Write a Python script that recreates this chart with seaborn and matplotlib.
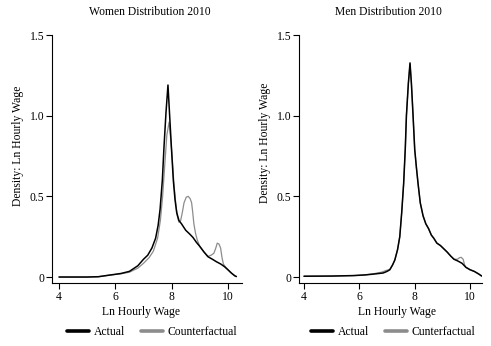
import matplotlib
matplotlib.use("Agg")
import matplotlib.pyplot as plt
import seaborn as sns
import pandas as pd
from matplotlib.lines import Line2D

# ---------------- data ----------------
women_act_x = [4.0, 5.0, 5.4, 5.8, 6.2, 6.5, 6.8, 7.0, 7.15, 7.3, 7.43, 7.52, 7.59, 7.67, 7.73,
               7.8, 7.87, 7.93, 7.99, 8.06, 8.12, 8.18, 8.26, 8.35, 8.5, 8.65, 8.76, 8.88, 9.0,
               9.15, 9.29, 9.45, 9.59, 9.75, 9.88, 10.0, 10.12, 10.24, 10.3]
women_act_y = [0.0, 0.0, 0.002, 0.012, 0.022, 0.035, 0.07, 0.11, 0.135, 0.18, 0.24, 0.32, 0.42, 0.60, 0.81,
               1.02, 1.19, 1.0, 0.81, 0.60, 0.48, 0.40, 0.35, 0.33, 0.29, 0.265, 0.245, 0.215, 0.19,
               0.155, 0.126, 0.11, 0.095, 0.08, 0.064, 0.045, 0.025, 0.008, 0.003]

women_cf_x = [4.0, 5.0, 5.4, 5.8, 6.2, 6.5, 6.8, 7.0, 7.2, 7.35, 7.5, 7.6, 7.68, 7.75, 7.83, 7.91,
              7.97, 8.02, 8.08, 8.15, 8.2, 8.26, 8.32, 8.38, 8.44, 8.52, 8.59, 8.66, 8.71, 8.75,
              8.79, 8.85, 8.91, 9.0, 9.15, 9.29, 9.4, 9.5, 9.57, 9.62, 9.68, 9.74, 9.79, 9.84,
              9.9, 10.0, 10.12, 10.24, 10.3]
women_cf_y = [0.0, 0.0, 0.002, 0.012, 0.02, 0.03, 0.055, 0.085, 0.12, 0.16, 0.24, 0.35, 0.5, 0.68, 0.88, 0.96,
              0.85, 0.74, 0.58, 0.45, 0.38, 0.34, 0.35, 0.40, 0.46, 0.495, 0.50, 0.485, 0.46, 0.40,
              0.33, 0.27, 0.23, 0.19, 0.155, 0.128, 0.135, 0.147, 0.18, 0.21, 0.205, 0.18, 0.12, 0.08,
              0.065, 0.045, 0.025, 0.008, 0.003]

men_act_x = [4.0, 5.0, 5.8, 6.2, 6.5, 6.86, 7.0, 7.1, 7.2, 7.28, 7.38, 7.46, 7.53, 7.6, 7.66, 7.70,
             7.77, 7.83, 7.88, 7.94, 8.0, 8.06, 8.12, 8.2, 8.3, 8.4, 8.5, 8.6, 8.69, 8.8, 8.93,
             9.05, 9.17, 9.3, 9.42, 9.55, 9.71, 9.85, 10.0, 10.15, 10.3, 10.42]
men_act_y = [0.005, 0.006, 0.009, 0.013, 0.018, 0.025, 0.035, 0.045, 0.075, 0.105, 0.17, 0.25, 0.40, 0.58, 0.80, 1.0,
             1.2, 1.327, 1.2, 1.0, 0.79, 0.68, 0.58, 0.46, 0.38, 0.33, 0.30, 0.26, 0.24, 0.21, 0.195,
             0.175, 0.155, 0.13, 0.11, 0.10, 0.085, 0.06, 0.045, 0.035, 0.02, 0.006]

men_cf_x = [4.0, 5.0, 5.8, 6.2, 6.5, 6.8, 6.95, 7.1, 7.2, 7.28, 7.38, 7.46, 7.53, 7.6, 7.66, 7.70,
            7.77, 7.83, 7.88, 7.94, 8.0, 8.06, 8.12, 8.2, 8.3, 8.4, 8.5, 8.6, 8.69, 8.8, 8.93,
            9.05, 9.17, 9.3, 9.42, 9.54, 9.62, 9.68, 9.75, 9.8, 9.85, 10.0, 10.15, 10.3, 10.42]
men_cf_y = [0.005, 0.006, 0.009, 0.013, 0.02, 0.03, 0.04, 0.047, 0.075, 0.105, 0.17, 0.25, 0.40, 0.58, 0.80, 1.0,
            1.2, 1.32, 1.2, 1.0, 0.79, 0.68, 0.58, 0.46, 0.38, 0.33, 0.30, 0.26, 0.24, 0.21, 0.195,
            0.175, 0.155, 0.13, 0.11, 0.11, 0.12, 0.122, 0.11, 0.075, 0.06, 0.045, 0.035, 0.02, 0.006]

y_ticks = [0, 0.5, 1.0, 1.5]
y_tick_labels = ["0", "0.5", "1.0", "1.5"]
x_ticks = [4, 6, 8, 10]
x_tick_labels = ["4", "6", "8", "10"]

# ---------------- style ----------------
sns.set_theme(style="white")
plt.rcParams["font.family"] = ["Liberation Serif", "DejaVu Serif"]
plt.rcParams["axes.edgecolor"] = "black"
plt.rcParams["xtick.color"] = "black"
plt.rcParams["ytick.color"] = "black"
plt.rcParams["text.color"] = "black"
plt.rcParams["axes.labelcolor"] = "black"

W, H = 491, 346
fig = plt.figure(figsize=(W / 100, H / 100), dpi=100)

BLACK = "#000000"
GREY = "#8c8c8c"
FS = 8.4

panels = [
    dict(rect=(52, 35, 242, 283), xlim=(3.75, 10.5), title="Women Distribution 2010",
         ax_=women_act_x, ay_=women_act_y, cx_=women_cf_x, cy_=women_cf_y,
         cf_label="Counterfactual", title_xy=(150, 12), xlab_xy=(141, 312), ylab_xy=(18, 146),
         leg_x=67),
    dict(rect=(299, 35, 482, 283), xlim=(3.82, 10.43), title="Men Distribution 2010",
         ax_=men_act_x, ay_=men_act_y, cx_=men_cf_x, cy_=men_cf_y,
         cf_label="Cunterfactual", title_xy=(388, 12), xlab_xy=(397, 312), ylab_xy=(265, 143),
         leg_x=311),
]

for p in panels:
    x0, y0, x1, y1 = p["rect"]
    ax = fig.add_axes([x0 / W, 1 - y1 / H, (x1 - x0) / W, (y1 - y0) / H])
    df_a = pd.DataFrame({"x": p["ax_"], "y": p["ay_"]})
    df_c = pd.DataFrame({"x": p["cx_"], "y": p["cy_"]})
    sns.lineplot(data=df_c, x="x", y="y", ax=ax, color=GREY, lw=0.9, sort=False,
                 estimator=None, zorder=2)
    sns.lineplot(data=df_a, x="x", y="y", ax=ax, color=BLACK, lw=1.1, sort=False,
                 estimator=None, zorder=3)
    ax.set_xlim(*p["xlim"])
    ax.set_ylim(-0.037, 1.5)
    ax.set_xticks(x_ticks)
    ax.set_xticklabels(x_tick_labels)
    ax.set_yticks(y_ticks)
    ax.set_yticklabels(y_tick_labels)
    ax.tick_params(axis="both", which="major", direction="out", length=4, width=0.8,
                   labelsize=FS, pad=1.5, bottom=True, left=True)
    for s in ["top", "right"]:
        ax.spines[s].set_visible(False)
    for s in ["left", "bottom"]:
        ax.spines[s].set_linewidth(0.8)
        ax.spines[s].set_color("black")
    ax.grid(False)

    ax.set_xlabel("Ln Hourly Wage", fontsize=FS)
    ax.xaxis.set_label_coords(p["xlab_xy"][0] / W, 1 - p["xlab_xy"][1] / H, transform=fig.transFigure)
    ax.xaxis.label.set_va("center")
    ax.set_ylabel("Density: Ln Hourly Wage", fontsize=FS)
    ax.yaxis.set_label_coords(p["ylab_xy"][0] / W, 1 - p["ylab_xy"][1] / H, transform=fig.transFigure)
    ax.yaxis.label.set_va("center")

    ty = (y1 - p["title_xy"][1]) / (y1 - y0)
    tx = (p["title_xy"][0] - x0) / (x1 - x0)
    ax.set_title(p["title"], fontsize=FS, x=tx, y=ty, pad=0, va="center")

    handles = [Line2D([], [], color=BLACK, lw=2.6), Line2D([], [], color=GREY, lw=2.6)]
    fig.legend(handles, ["Actual", p["cf_label"]], loc="center left",
               bbox_to_anchor=(p["leg_x"] / W, 1 - 332 / H), ncol=2, frameon=False,
               fontsize=FS, handlelength=1.85, handletextpad=0.43, columnspacing=1.4,
               borderpad=0, borderaxespad=0)

fig.savefig("out.png", dpi=100)
